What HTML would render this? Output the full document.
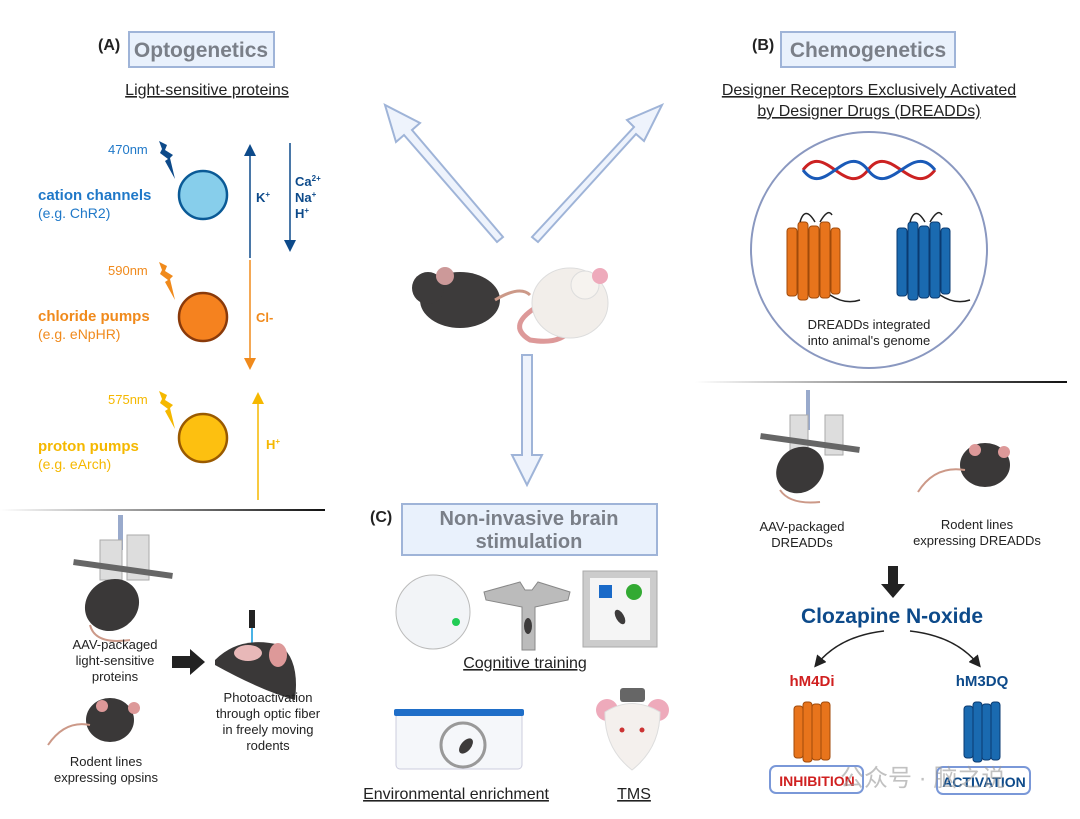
<!DOCTYPE html>
<html><head><meta charset="utf-8"><style>
body{margin:0;background:#fff}
svg{display:block}
text{font-family:"Liberation Sans",Arial,sans-serif}
</style></head><body>
<svg width="1080" height="819" viewBox="0 0 1080 819" xmlns="http://www.w3.org/2000/svg">
<defs>
<linearGradient id="lg1" x1="0" x2="1"><stop offset="0" stop-color="#fff"/><stop offset="0.5" stop-color="#888"/><stop offset="1" stop-color="#111"/></linearGradient>
<marker id="mn" markerWidth="8" markerHeight="8" refX="4" refY="4" orient="auto"><path d="M0,0 L8,4 L0,8z" fill="#0d4a8a"/></marker>
<marker id="mo" markerWidth="8" markerHeight="8" refX="4" refY="4" orient="auto"><path d="M0,0 L8,4 L0,8z" fill="#f08a1c"/></marker>
<marker id="my" markerWidth="8" markerHeight="8" refX="4" refY="4" orient="auto"><path d="M0,0 L8,4 L0,8z" fill="#f5b800"/></marker>
<marker id="mk" markerWidth="8" markerHeight="8" refX="5" refY="4" orient="auto"><path d="M0,0 L8,4 L0,8z" fill="#222"/></marker>
<path id="bolt" d="M0,0 L8,4 L6,9 L14,14 L11,17 L16,38 L6,20 L9,18 L1,12 L3,8z"/>
</defs>

<!-- (A) -->
<text x="98" y="50" font-size="16" font-weight="bold" fill="#222">(A)</text>
<rect x="129" y="32" width="145" height="35" fill="#e9f1fc" stroke="#9fb4d8" stroke-width="2"/>
<text x="201" y="57" font-size="21" font-weight="bold" fill="#7a7f88" text-anchor="middle">Optogenetics</text>
<text x="207" y="95" font-size="16" fill="#222" text-anchor="middle" text-decoration="underline">Light-sensitive proteins</text>

<text x="108" y="154" font-size="13" fill="#1f78c8">470nm</text>
<use href="#bolt" x="159" y="141" fill="#0d4a8a"/>
<circle cx="203" cy="195" r="24" fill="#87ceeb" stroke="#0a5a96" stroke-width="2.5"/>
<text x="38" y="200" font-size="15" font-weight="bold" fill="#1f78c8">cation channels</text>
<text x="38" y="218" font-size="14" fill="#1f78c8">(e.g. ChR2)</text>
<line x1="250" y1="258" x2="250" y2="150" stroke="#0d4a8a" stroke-width="1.5" marker-end="url(#mn)"/>
<text x="256" y="202" font-size="13" font-weight="bold" fill="#0d4a8a">K<tspan font-size="8" dy="-5">+</tspan></text>
<line x1="290" y1="143" x2="290" y2="246" stroke="#0d4a8a" stroke-width="1.5" marker-end="url(#mn)"/>
<text x="295" y="186" font-size="13" font-weight="bold" fill="#0d4a8a">Ca<tspan font-size="8" dy="-5">2+</tspan></text>
<text x="295" y="202" font-size="13" font-weight="bold" fill="#0d4a8a">Na<tspan font-size="8" dy="-5">+</tspan></text>
<text x="295" y="218" font-size="13" font-weight="bold" fill="#0d4a8a">H<tspan font-size="8" dy="-5">+</tspan></text>

<text x="108" y="275" font-size="13" fill="#f08a1c">590nm</text>
<use href="#bolt" x="159" y="262" fill="#f08a1c"/>
<circle cx="203" cy="317" r="24" fill="#f5821f" stroke="#8a3a0a" stroke-width="2.5"/>
<text x="38" y="321" font-size="15" font-weight="bold" fill="#f08a1c">chloride pumps</text>
<text x="38" y="339" font-size="14" fill="#f08a1c">(e.g. eNpHR)</text>
<line x1="250" y1="260" x2="250" y2="364" stroke="#f08a1c" stroke-width="1.5" marker-end="url(#mo)"/>
<text x="256" y="322" font-size="13" font-weight="bold" fill="#f08a1c">Cl-</text>

<text x="108" y="404" font-size="13" fill="#f5b800">575nm</text>
<use href="#bolt" x="159" y="391" fill="#f5b800"/>
<circle cx="203" cy="438" r="24" fill="#fdc010" stroke="#9a5a00" stroke-width="2.5"/>
<text x="38" y="451" font-size="15" font-weight="bold" fill="#f5b800">proton pumps</text>
<text x="38" y="469" font-size="14" fill="#f5b800">(e.g. eArch)</text>
<line x1="258" y1="500" x2="258" y2="398" stroke="#f5b800" stroke-width="1.5" marker-end="url(#my)"/>
<text x="266" y="449" font-size="13" font-weight="bold" fill="#f5b800">H<tspan font-size="8" dy="-5">+</tspan></text>

<rect x="0" y="509" width="325" height="2" fill="url(#lg1)"/>

<!-- bottom left -->
<g>
<rect x="118" y="515" width="5" height="35" fill="#9ac"/>
<rect x="100" y="540" width="22" height="40" fill="#ddd" stroke="#aaa"/>
<rect x="127" y="535" width="22" height="45" fill="#ddd" stroke="#aaa"/>
<rect x="73" y="566" width="100" height="6" fill="#666" transform="rotate(8 123 569)"/>
<ellipse cx="112" cy="605" rx="28" ry="25" fill="#3a3838" transform="rotate(-35 112 605)"/>
<path d="M90,625 Q95,645 130,640" stroke="#c98" fill="none" stroke-width="2"/>
</g>
<text x="115" y="649" font-size="13" fill="#222" text-anchor="middle">AAV-packaged</text>
<text x="115" y="665" font-size="13" fill="#222" text-anchor="middle">light-sensitive</text>
<text x="115" y="681" font-size="13" fill="#222" text-anchor="middle">proteins</text>
<path d="M172,656 L190,656 L190,649 L205,662 L190,675 L190,668 L172,668z" fill="#222"/>
<rect x="249" y="610" width="6" height="18" fill="#222"/>
<rect x="251" y="628" width="2" height="22" fill="#4ab3e6"/>
<path d="M215,660 Q240,635 280,645 Q300,660 295,700 Q260,690 215,665z" fill="#3a3838"/>
<ellipse cx="248" cy="653" rx="14" ry="8" fill="#e8b8b8"/>
<ellipse cx="278" cy="655" rx="9" ry="12" fill="#d99"/>
<text x="268" y="702" font-size="13" fill="#222" text-anchor="middle">Photoactivation</text>
<text x="268" y="718" font-size="13" fill="#222" text-anchor="middle">through optic fiber</text>
<text x="268" y="734" font-size="13" fill="#222" text-anchor="middle">in freely moving</text>
<text x="268" y="750" font-size="13" fill="#222" text-anchor="middle">rodents</text>
<ellipse cx="110" cy="720" rx="24" ry="22" fill="#3a3838"/>
<circle cx="102" cy="706" r="6" fill="#d99"/><circle cx="134" cy="708" r="6" fill="#d99"/>
<path d="M90,725 Q65,720 48,745" stroke="#c98" fill="none" stroke-width="2"/>
<text x="106" y="766" font-size="13" fill="#222" text-anchor="middle">Rodent lines</text>
<text x="106" y="782" font-size="13" fill="#222" text-anchor="middle">expressing opsins</text>

<!-- central arrows -->
<path d="M503,237 L412,130 L420,123 L385,105 L396,142 L404,135 L497,242z" fill="#eef3fc" stroke="#9fb4d8" stroke-width="2"/>
<path d="M538,242 L636,134 L644,141 L662,105 L627,120 L634,127 L532,237z" fill="#eef3fc" stroke="#9fb4d8" stroke-width="2"/>
<path d="M522,355 L532,355 L532,455 L542,455 L527,485 L512,455 L522,455z" fill="#eef3fc" stroke="#9fb4d8" stroke-width="2"/>
<!-- mice -->
<ellipse cx="460" cy="300" rx="40" ry="28" fill="#3d3b3b"/>
<circle cx="428" cy="288" r="16" fill="#3d3b3b"/>
<circle cx="445" cy="276" r="9" fill="#c99"/>
<path d="M495,300 Q520,285 530,295" stroke="#c98" fill="none" stroke-width="3"/>
<path d="M540,305 Q505,325 530,340 Q560,345 570,330" stroke="#d99" fill="none" stroke-width="5"/>
<ellipse cx="570" cy="303" rx="38" ry="35" fill="#f2eeea" stroke="#ddd"/>
<circle cx="585" cy="285" r="14" fill="#f6f3ef" stroke="#ddd"/>
<circle cx="600" cy="276" r="8" fill="#eab"/>

<!-- (C) -->
<text x="370" y="522" font-size="16" font-weight="bold" fill="#222">(C)</text>
<rect x="402" y="504" width="255" height="51" fill="#e9f1fc" stroke="#9fb4d8" stroke-width="2"/>
<text x="529" y="525" font-size="20" font-weight="bold" fill="#7a7f88" text-anchor="middle">Non-invasive brain</text>
<text x="529" y="548" font-size="20" font-weight="bold" fill="#7a7f88" text-anchor="middle">stimulation</text>
<circle cx="433" cy="612" r="37" fill="#f2f4f7" stroke="#bbb"/>
<circle cx="456" cy="622" r="4" fill="#2c5"/>
<path d="M484,592 L520,582 L525,590 L532,590 L538,582 L570,592 L568,600 L535,607 L535,650 L522,650 L522,607 L486,600z" fill="#bbb" stroke="#888"/>
<ellipse cx="528" cy="626" rx="4" ry="8" fill="#3d3b3b"/>
<rect x="583" y="571" width="74" height="76" fill="#ccc" stroke="#aaa"/>
<rect x="590" y="578" width="60" height="62" fill="#f5f5f5"/>
<rect x="599" y="585" width="13" height="13" fill="#1a6ac8"/>
<circle cx="634" cy="592" r="8" fill="#3a3"/>
<ellipse cx="620" cy="617" rx="4" ry="8" fill="#3d3b3b" transform="rotate(-30 620 617)"/>
<text x="525" y="668" font-size="16" fill="#222" text-anchor="middle" text-decoration="underline">Cognitive training</text>
<rect x="396" y="713" width="126" height="56" rx="4" fill="#f5f7fa" stroke="#ccd"/>
<rect x="394" y="709" width="130" height="7" rx="2" fill="#1f6ec8"/>
<circle cx="463" cy="745" r="22" fill="none" stroke="#999" stroke-width="3"/>
<ellipse cx="466" cy="746" rx="5" ry="9" fill="#3d3b3b" transform="rotate(40 466 746)"/>
<text x="456" y="799" font-size="16" fill="#222" text-anchor="middle" text-decoration="underline">Environmental enrichment</text>
<circle cx="607" cy="710" r="11" fill="#eab"/><circle cx="658" cy="710" r="11" fill="#eab"/>
<path d="M605,712 Q632,695 660,712 Q660,748 632,770 Q604,748 605,712z" fill="#f4f0ed" stroke="#ddd"/>
<rect x="620" y="688" width="25" height="14" rx="3" fill="#666"/>
<circle cx="622" cy="730" r="2.5" fill="#c33"/><circle cx="642" cy="730" r="2.5" fill="#c33"/>
<text x="634" y="799" font-size="16" fill="#222" text-anchor="middle" text-decoration="underline">TMS</text>

<!-- (B) -->
<text x="752" y="50" font-size="16" font-weight="bold" fill="#222">(B)</text>
<rect x="781" y="32" width="174" height="35" fill="#e9f1fc" stroke="#9fb4d8" stroke-width="2"/>
<text x="868" y="57" font-size="21" font-weight="bold" fill="#7a7f88" text-anchor="middle">Chemogenetics</text>
<text x="869" y="95" font-size="16" fill="#222" text-anchor="middle" text-decoration="underline">Designer Receptors Exclusively Activated</text>
<text x="869" y="116" font-size="16" fill="#222" text-anchor="middle" text-decoration="underline">by Designer Drugs (DREADDs)</text>
<circle cx="869" cy="250" r="118" fill="#fff" stroke="#8a98c0" stroke-width="2"/>
<path d="M803,170 C825,140 845,200 868,170 C890,140 912,200 935,170" stroke="#c22" stroke-width="3" fill="none"/>
<path d="M803,170 C825,200 845,140 868,170 C890,200 912,140 935,170" stroke="#1a5ab8" stroke-width="3" fill="none"/>
<g fill="#e8741c" stroke="#a04a0a" stroke-width="1">
<rect x="787" y="228" width="10" height="68" rx="3"/><rect x="798" y="222" width="10" height="78" rx="3"/><rect x="809" y="226" width="10" height="72" rx="3"/><rect x="820" y="222" width="10" height="76" rx="3"/><rect x="831" y="228" width="9" height="66" rx="3"/></g>
<path d="M800,222 Q805,205 815,222 M820,222 Q828,208 832,215" stroke="#222" fill="none" stroke-width="1.5"/>
<path d="M830,295 Q845,305 860,300" stroke="#222" fill="none" stroke-width="1.5"/>
<g fill="#1a6ab0" stroke="#0a3a70" stroke-width="1">
<rect x="897" y="228" width="10" height="68" rx="3"/><rect x="908" y="222" width="10" height="78" rx="3"/><rect x="919" y="226" width="10" height="72" rx="3"/><rect x="930" y="222" width="10" height="76" rx="3"/><rect x="941" y="228" width="9" height="66" rx="3"/></g>
<path d="M910,222 Q915,205 925,222 M930,222 Q938,208 942,215" stroke="#222" fill="none" stroke-width="1.5"/>
<path d="M940,295 Q955,305 970,300" stroke="#222" fill="none" stroke-width="1.5"/>
<text x="869" y="329" font-size="13" fill="#222" text-anchor="middle">DREADDs integrated</text>
<text x="869" y="345" font-size="13" fill="#222" text-anchor="middle">into animal's genome</text>
<rect x="695" y="381" width="372" height="2" fill="url(#lg1)"/>

<!-- bottom right -->
<rect x="806" y="390" width="4" height="40" fill="#9ac"/>
<rect x="790" y="415" width="18" height="35" fill="#ddd" stroke="#aaa"/>
<rect x="825" y="415" width="18" height="40" fill="#ddd" stroke="#aaa"/>
<rect x="760" y="440" width="100" height="6" fill="#666" transform="rotate(8 810 443)"/>
<ellipse cx="800" cy="470" rx="25" ry="22" fill="#3a3838" transform="rotate(-40 800 470)"/>
<path d="M780,490 Q790,505 820,502" stroke="#c98" fill="none" stroke-width="2"/>
<text x="802" y="531" font-size="13" fill="#222" text-anchor="middle">AAV-packaged</text>
<text x="802" y="547" font-size="13" fill="#222" text-anchor="middle">DREADDs</text>
<ellipse cx="985" cy="465" rx="25" ry="22" fill="#3a3838"/>
<circle cx="975" cy="450" r="6" fill="#d99"/><circle cx="1004" cy="452" r="6" fill="#d99"/>
<path d="M965,470 Q935,465 918,492" stroke="#c98" fill="none" stroke-width="2"/>
<text x="977" y="529" font-size="13" fill="#222" text-anchor="middle">Rodent lines</text>
<text x="977" y="545" font-size="13" fill="#222" text-anchor="middle">expressing DREADDs</text>
<path d="M888,566 L898,566 L898,584 L905,584 L893,598 L881,584 L888,584z" fill="#222"/>
<text x="892" y="623" font-size="21" font-weight="bold" fill="#0d4a8a" text-anchor="middle">Clozapine N-oxide</text>
<path d="M884,631 Q840,636 817,664" stroke="#222" fill="none" stroke-width="1.5" marker-end="url(#mk)"/>
<path d="M910,631 Q955,636 978,664" stroke="#222" fill="none" stroke-width="1.5" marker-end="url(#mk)"/>
<text x="812" y="686" font-size="15" font-weight="bold" fill="#d02020" text-anchor="middle">hM4Di</text>
<text x="982" y="686" font-size="15" font-weight="bold" fill="#0d4a8a" text-anchor="middle">hM3DQ</text>
<g fill="#e8741c" stroke="#a04a0a" stroke-width="1">
<rect x="794" y="706" width="9" height="52" rx="3"/><rect x="803" y="702" width="9" height="60" rx="3"/><rect x="812" y="704" width="9" height="56" rx="3"/><rect x="821" y="702" width="9" height="58" rx="3"/></g>
<g fill="#1a6ab0" stroke="#0a3a70" stroke-width="1">
<rect x="964" y="706" width="9" height="52" rx="3"/><rect x="973" y="702" width="9" height="60" rx="3"/><rect x="982" y="704" width="9" height="56" rx="3"/><rect x="991" y="702" width="9" height="58" rx="3"/></g>
<rect x="770" y="766" width="93" height="27" rx="6" fill="none" stroke="#7a98d8" stroke-width="2"/>
<text x="817" y="786" font-size="14" font-weight="bold" fill="#d02020" text-anchor="middle">INHIBITION</text>
<rect x="937" y="767" width="93" height="27" rx="6" fill="none" stroke="#7a98d8" stroke-width="2"/>
<text x="984" y="787" font-size="14" font-weight="bold" fill="#0d4a8a" text-anchor="middle">ACTIVATION</text>
<text x="840" y="786" font-size="24" fill="#999" opacity="0.6" font-family="Noto Sans CJK SC, sans-serif">公众号 · 脑之说</text>
</svg>
</body></html>
